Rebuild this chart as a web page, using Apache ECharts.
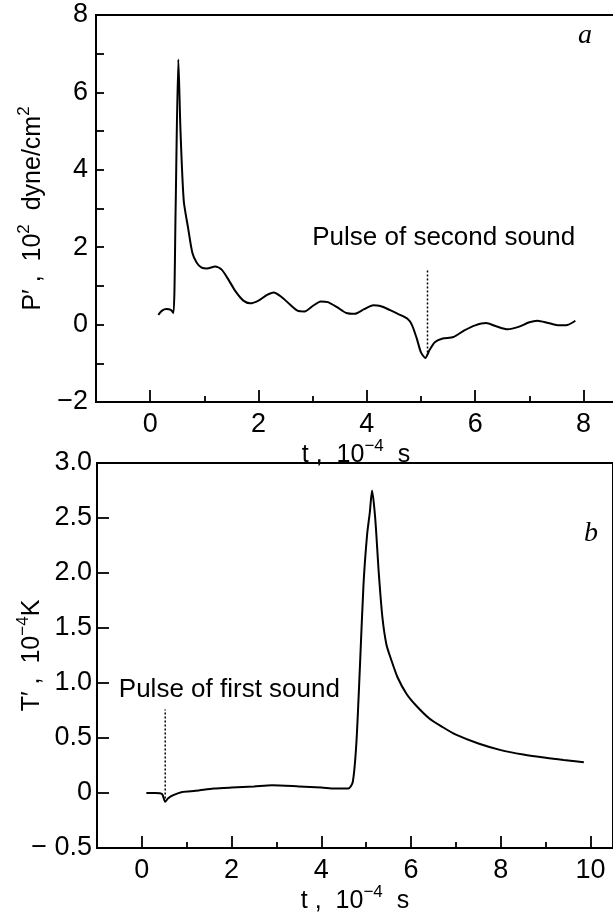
<!DOCTYPE html>
<html>
<head>
    <meta charset="utf-8">
    <script src="https://cdn.jsdelivr.net/npm/echarts@6/dist/echarts.min.js"></script>
</head>
<body style="margin:0;background:#fff">
    <div id="main" style="width:613px;height:920px;"></div>
    <script type="text/javascript">
        // panel a: pressure P', 10^2 dyne/cm^2 vs t, 10^-4 s
        var tA = [0.15, 0.22, 0.3, 0.38, 0.43, 0.47, 0.52, 0.56, 0.62, 0.7, 0.78, 0.86, 0.95, 1.05, 1.2, 1.32, 1.45, 1.58, 1.72, 1.85, 2.0, 2.15, 2.28, 2.42, 2.58, 2.72, 2.85, 3.0, 3.15, 3.28, 3.45, 3.62, 3.78, 3.95, 4.12, 4.25, 4.42, 4.6, 4.75, 4.83, 4.92, 5.0, 5.08, 5.16, 5.26, 5.4, 5.6, 5.8, 6.0, 6.2, 6.4, 6.6, 6.8, 7.0, 7.15, 7.35, 7.55, 7.7, 7.85];
        var pA = [0.25, 0.36, 0.4, 0.38, 0.3, 3.0, 6.85, 5.0, 3.2, 2.5, 1.85, 1.6, 1.47, 1.45, 1.5, 1.42, 1.15, 0.85, 0.62, 0.55, 0.62, 0.76, 0.83, 0.72, 0.52, 0.36, 0.34, 0.48, 0.6, 0.58, 0.45, 0.3, 0.28, 0.4, 0.5, 0.48, 0.38, 0.26, 0.15, 0.0, -0.35, -0.72, -0.86, -0.65, -0.45, -0.36, -0.32, -0.15, -0.02, 0.04, -0.05, -0.12, -0.06, 0.06, 0.1, 0.04, -0.02, -0.01, 0.1];
        // panel b: temperature T', 10^-4 K vs t, 10^-4 s
        var tB = [0.1, 0.3, 0.45, 0.52, 0.58, 0.7, 0.9, 1.2, 1.6, 2.0, 2.5, 2.9, 3.5, 4.0, 4.3, 4.6, 4.7, 4.78, 4.86, 4.94, 5.02, 5.08, 5.13, 5.2, 5.28, 5.36, 5.45, 5.55, 5.7, 5.9, 6.1, 6.4, 6.7, 7.0, 7.5, 8.0, 8.5, 9.0, 9.4, 9.85];
        var vB = [0.0, 0.0, -0.01, -0.08, -0.05, -0.02, 0.01, 0.02, 0.04, 0.05, 0.06, 0.07, 0.06, 0.05, 0.04, 0.04, 0.1, 0.45, 1.15, 1.9, 2.35, 2.55, 2.75, 2.5, 2.0, 1.6, 1.35, 1.22, 1.05, 0.9, 0.8, 0.68, 0.6, 0.53, 0.45, 0.39, 0.35, 0.32, 0.3, 0.28];

        // dotted pointer lines and their captions
        var markA = { t: [5.12, 5.12], v: [-0.72, 1.42] };
        var markB = { t: [0.52, 0.52], v: [-0.05, 0.76] };
        var noteA = { t: 5.42, v: 2.24, text: 'Pulse of second sound' };
        var noteB = { t: 1.95, v: 0.94, text: 'Pulse of first sound' };

        var ticksA = [0, 2, 4, 6, 8];
        var minorA = [1, 3, 5, 7];
        var ticksB = [0, 2, 4, 6, 8, 10];
        var minorB = [1, 3, 5, 7, 9];

        function pairs(xs, ys) {
            var res = [];
            for (var i = 0; i < xs.length; i++) res.push([xs[i], ys[i]]);
            return res;
        }

        var font = 'Liberation Sans';
        var nameRich = {
            n: { fontSize: 25, fontFamily: font, color: '#000', lineHeight: 30, verticalAlign: 'bottom' },
            s: { fontSize: 17, fontFamily: font, color: '#000', lineHeight: 18, verticalAlign: 'top' }
        };
        var axisLine = { show: true, onZero: false, lineStyle: { color: '#000', width: 2 } };
        var tickStyle = { color: '#000', width: 1.8 };

        function mainX(grid, min, max, ticks) {
            return {
                type: 'value', gridIndex: grid, min: min, max: max, position: 'bottom',
                axisLine: axisLine,
                axisTick: { show: true, inside: true, length: 12, customValues: ticks, lineStyle: tickStyle },
                axisLabel: { customValues: ticks, fontSize: 27, fontFamily: font, color: '#000', margin: 9 },
                splitLine: { show: false },
                name: '{n|t ,  10}{s|\u22124}{n|  s}',
                nameLocation: 'middle', nameGap: 36, nameMoveOverlap: false,
                nameTextStyle: { fontSize: 25, rich: nameRich }
            };
        }
        function minorX(grid, min, max, ticks) {
            return {
                type: 'value', gridIndex: grid, min: min, max: max, position: 'bottom',
                axisLine: { show: false, onZero: false },
                axisTick: { show: true, inside: true, length: 6, customValues: ticks, lineStyle: tickStyle },
                axisLabel: { show: false },
                splitLine: { show: false }
            };
        }

        var myChart = echarts.init(document.getElementById('main'));
        var option = {
            animation: false,
            backgroundColor: '#fff',
            grid: [
                { left: 96, top: 15, width: 520, height: 387, show: true, borderColor: '#000', borderWidth: 2, containLabel: false, outerBoundsMode: 'none' },
                { left: 97, top: 463, width: 516, height: 385, show: true, borderColor: '#000', borderWidth: 2, containLabel: false, outerBoundsMode: 'none' }
            ],
            xAxis: [
                mainX(0, -1, 8.6, ticksA),
                minorX(0, -1, 8.6, minorA),
                mainX(1, -1, 10.5, ticksB),
                minorX(1, -1, 10.5, minorB)
            ],
            yAxis: [
                {
                    type: 'value', gridIndex: 0, min: -2, max: 8, interval: 2,
                    axisLine: axisLine,
                    axisTick: { show: true, inside: true, length: 8, lineStyle: tickStyle },
                    minorTick: { show: true, splitNumber: 2, length: 8, lineStyle: tickStyle },
                    axisLabel: {
                        fontSize: 27, fontFamily: font, color: '#000', margin: 8,
                        formatter: function (v) { return v < 0 ? '\u2212' + (-v) : '' + v; }
                    },
                    splitLine: { show: false },
                    name: '{n|P\u2032 ,  10}{s|2}{n|  dyne/cm}{s|2}',
                    nameLocation: 'middle', nameGap: 50, nameRotate: 90, nameMoveOverlap: false,
                    nameTextStyle: { fontSize: 25, rich: nameRich }
                },
                {
                    type: 'value', gridIndex: 1, min: -0.5, max: 3, interval: 0.5,
                    axisLine: axisLine,
                    axisTick: { show: true, inside: true, length: 12, lineStyle: tickStyle },
                    axisLabel: {
                        fontSize: 27, fontFamily: font, color: '#000', margin: 5,
                        formatter: function (v) {
                            if (v === 0) return '0';
                            return v < 0 ? '\u2212 ' + (-v).toFixed(1) : v.toFixed(1);
                        }
                    },
                    splitLine: { show: false },
                    name: '{n|T\u2032 ,  10}{s|\u22124}{n|K}',
                    nameLocation: 'middle', nameGap: 52, nameRotate: 90, nameMoveOverlap: false,
                    nameTextStyle: { fontSize: 25, rich: nameRich }
                }
            ],
            series: [
                {
                    type: 'line', xAxisIndex: 0, yAxisIndex: 0, data: pairs(tA, pA),
                    showSymbol: false, smooth: 0.25, lineStyle: { color: '#000', width: 2 }
                },
                {
                    type: 'line', xAxisIndex: 0, yAxisIndex: 0, data: pairs(markA.t, markA.v),
                    showSymbol: false, lineStyle: { color: '#000', width: 1.5, type: [2, 2] }
                },
                {
                    type: 'scatter', xAxisIndex: 0, yAxisIndex: 0, data: [[noteA.t, noteA.v]],
                    symbolSize: 0, itemStyle: { opacity: 1 },
                    label: { show: true, position: 'inside', formatter: noteA.text, fontSize: 26, fontFamily: font, color: '#000', opacity: 1 }
                },
                {
                    type: 'line', xAxisIndex: 2, yAxisIndex: 1, data: pairs(tB, vB),
                    showSymbol: false, smooth: 0.25, lineStyle: { color: '#000', width: 2 }
                },
                {
                    type: 'line', xAxisIndex: 2, yAxisIndex: 1, data: pairs(markB.t, markB.v),
                    showSymbol: false, lineStyle: { color: '#000', width: 1.5, type: [2, 2] }
                },
                {
                    type: 'scatter', xAxisIndex: 2, yAxisIndex: 1, data: [[noteB.t, noteB.v]],
                    symbolSize: 0, itemStyle: { opacity: 1 },
                    label: { show: true, position: 'inside', formatter: noteB.text, fontSize: 26, fontFamily: font, color: '#000', opacity: 1 }
                }
            ],
            graphic: [
                { type: 'text', left: 578, top: 22, style: { text: 'a', font: 'italic 28px "Liberation Serif"', fill: '#000' } },
                { type: 'text', left: 584, top: 520, style: { text: 'b', font: 'italic 28px "Liberation Serif"', fill: '#000' } }
            ]
        };
        myChart.setOption(option);
    </script>
</body>
</html>
